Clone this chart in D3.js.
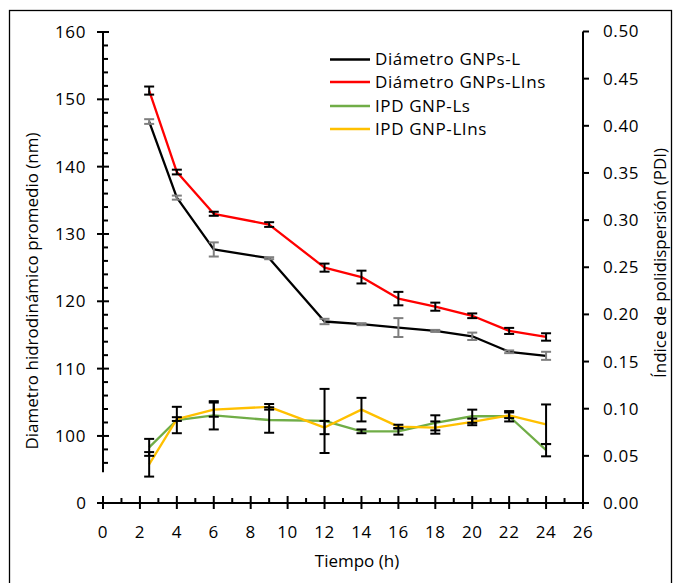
<!DOCTYPE html>
<html>
<head>
<meta charset="utf-8">
<script src="https://cdn.jsdelivr.net/npm/d3@7"></script>
<style>
  html, body { margin: 0; padding: 0; background: #fff; }
  svg text { font-family: "Open Sans", "Liberation Sans", sans-serif; fill: #000; }
</style>
</head>
<body>
<svg id="chart" width="674" height="583"></svg>
<script>
// ---- data ----
const times = [2.5, 4, 6, 9, 12, 14, 16, 18, 20, 22, 24];
const diamL = [146.7, 135.4, 127.7, 126.4, 117.0, 116.6, 116.1, 115.6, 114.8, 112.5, 111.9];
const diamLErr = [0.35, 0.3, 1.05, 0.15, 0.4, 0.15, 1.4, 0.15, 0.55, 0.2, 0.6];
const diamLIns = [151.3, 139.2, 133.0, 131.4, 125.0, 123.6, 120.4, 119.2, 117.85, 115.6, 114.7];
const diamLInsErr = [0.6, 0.35, 0.3, 0.35, 0.6, 0.95, 1.0, 0.6, 0.35, 0.45, 0.55];
const pdiLs = [0.059, 0.088, 0.093, 0.088, 0.087, 0.076, 0.076, 0.085, 0.092, 0.092, 0.056];
const pdiLsErr = [0.009, 0.014, 0.015, 0.0135, 0.034, 0.002, 0.0035, 0.008, 0.007, 0.0055, 0.0065];
const pdiLIns = [0.041, 0.089, 0.099, 0.102, 0.080, 0.099, 0.081, 0.080, 0.086, 0.093, 0.0835];
const pdiLInsErr = [0.013, 0.002, 0.0075, 0.003, 0.007, 0.0125, 0.002, 0.0065, 0.0035, 0.003, 0.021];

const xTicks = [0, 2, 4, 6, 8, 10, 12, 14, 16, 18, 20, 22, 24, 26];
const leftTicks = [100, 110, 120, 130, 140, 150, 160];
const rightTicks = [0, 0.05, 0.10, 0.15, 0.20, 0.25, 0.30, 0.35, 0.40, 0.45, 0.50];
const legendLabels = ["Diámetro GNPs-L", "Diámetro GNPs-LIns", "IPD GNP-Ls", "IPD GNP-LIns"];
const colors = ["#000000", "#ff0000", "#70ad47", "#ffc000"];
const xTitle = "Tiempo (h)";
const yLeftTitle = "Diametro hidrodinámico promedio (nm)";
const yRightTitle = "Índice de polidispersión (PDI)";

// ---- layout ----
const svg = d3.select("#chart");
const X0 = 103, X1 = 583, YBASE = 503, YTOP = 32;
const x = d3.scaleLinear().domain([0, 26]).range([X0, X1]);
const yL = d3.scaleLinear().domain([94.6, 160]).range([472.3, YTOP]);
const yR = d3.scaleLinear().domain([0, 0.5]).range([YBASE, YTOP - 0.5]);

// outer frame
svg.append("rect").attr("x", 9.5).attr("y", 10.5).attr("width", 662).attr("height", 590)
  .attr("fill", "none").attr("stroke", "#000").attr("stroke-width", 1.3);

const fs = 17;
const axisG = svg.append("g").attr("stroke", "#000").attr("stroke-width", 2);

// left axis (broken): line from 160 down to ~94.6
axisG.append("line").attr("x1", X0).attr("x2", X0).attr("y1", yL(160)).attr("y2", yL(94.6));
// minor ticks every 2 (inside)
d3.range(96, 160, 2).filter(v => v % 10 !== 0).forEach(v => {
  axisG.append("line").attr("x1", X0).attr("x2", X0 + 5).attr("y1", yL(v)).attr("y2", yL(v));
});
leftTicks.forEach(v => {
  axisG.append("line").attr("x1", X0 - 6).attr("x2", X0 + 6).attr("y1", yL(v)).attr("y2", yL(v));
  svg.append("text").attr("x", 86).attr("y", yL(v)).attr("dy", "0.35em")
    .attr("text-anchor", "end").attr("font-size", fs).attr("letter-spacing", 0.6).text(v);
});
// zero of left axis on x-axis level
axisG.append("line").attr("x1", X0 - 6).attr("x2", X0).attr("y1", YBASE).attr("y2", YBASE);
svg.append("text").attr("x", 86).attr("y", YBASE).attr("dy", "0.35em")
  .attr("text-anchor", "end").attr("font-size", fs).text("0");

// x axis
axisG.append("line").attr("x1", X0 - 2).attr("x2", X1 + 5).attr("y1", YBASE).attr("y2", YBASE);
d3.range(1, 26, 2).forEach(v => {
  axisG.append("line").attr("x1", x(v)).attr("x2", x(v)).attr("y1", YBASE).attr("y2", YBASE - 5);
});
xTicks.forEach(v => {
  axisG.append("line").attr("x1", x(v)).attr("x2", x(v)).attr("y1", YBASE - 7).attr("y2", YBASE + 6);
  svg.append("text").attr("x", x(v)).attr("y", 532).attr("dy", "0.35em")
    .attr("text-anchor", "middle").attr("font-size", fs).attr("letter-spacing", 0.6).text(v);
});

// right axis
axisG.append("line").attr("x1", X1).attr("x2", X1).attr("y1", yR(0.5)).attr("y2", YBASE + 5);
rightTicks.forEach(v => {
  axisG.append("line").attr("x1", X1).attr("x2", X1 + 6).attr("y1", yR(v)).attr("y2", yR(v));
  svg.append("text").attr("x", 603).attr("y", yR(v)).attr("dy", "0.35em")
    .attr("text-anchor", "start").attr("font-size", fs).attr("letter-spacing", 0.6).text(v.toFixed(2));
});

// titles
svg.append("text").attr("x", 357).attr("y", 567).attr("text-anchor", "middle")
  .attr("font-size", fs).text(xTitle);
svg.append("text").attr("transform", "translate(38,291) rotate(-90)").attr("text-anchor", "middle")
  .attr("font-size", fs).text(yLeftTitle);
svg.append("text").attr("transform", "translate(666,263) rotate(-90)").attr("text-anchor", "middle")
  .attr("font-size", fs).text(yRightTitle);

// ---- series ----
const series = [
  { vals: diamL, err: diamLErr, y: yL, color: colors[0], errColor: "#7f7f7f" },
  { vals: diamLIns, err: diamLInsErr, y: yL, color: colors[1], errColor: "#000" },
  { vals: pdiLs, err: pdiLsErr, y: yR, color: colors[2], errColor: "#000" },
  { vals: pdiLIns, err: pdiLInsErr, y: yR, color: colors[3], errColor: "#000" }
];

series.forEach(s => {
  const line = d3.line().x((d, i) => x(times[i])).y(d => s.y(d));
  svg.append("path").datum(s.vals).attr("d", line).attr("fill", "none")
    .attr("stroke", s.color).attr("stroke-width", 2.3).attr("stroke-linejoin", "round");
});

series.forEach(s => {
  const g = svg.append("g").attr("stroke", s.errColor).attr("stroke-width", 2);
  s.vals.forEach((v, i) => {
    const cx = x(times[i]);
    const yt = s.y(v + s.err[i]), yb = s.y(v - s.err[i]);
    g.append("line").attr("x1", cx).attr("x2", cx).attr("y1", yt).attr("y2", yb);
    g.append("line").attr("x1", cx - 5).attr("x2", cx + 5).attr("y1", yt).attr("y2", yt);
    g.append("line").attr("x1", cx - 5).attr("x2", cx + 5).attr("y1", yb).attr("y2", yb);
  });
});

// legend
const legY = [59.5, 82, 106, 129];
legendLabels.forEach((lab, i) => {
  svg.append("line").attr("x1", 330).attr("x2", 370).attr("y1", legY[i]).attr("y2", legY[i])
    .attr("stroke", colors[i]).attr("stroke-width", 2.3);
  svg.append("text").attr("x", 375).attr("y", legY[i]).attr("dy", "0.35em")
    .attr("font-size", fs).attr("letter-spacing", 0.6).text(lab);
});
</script>
</body>
</html>
